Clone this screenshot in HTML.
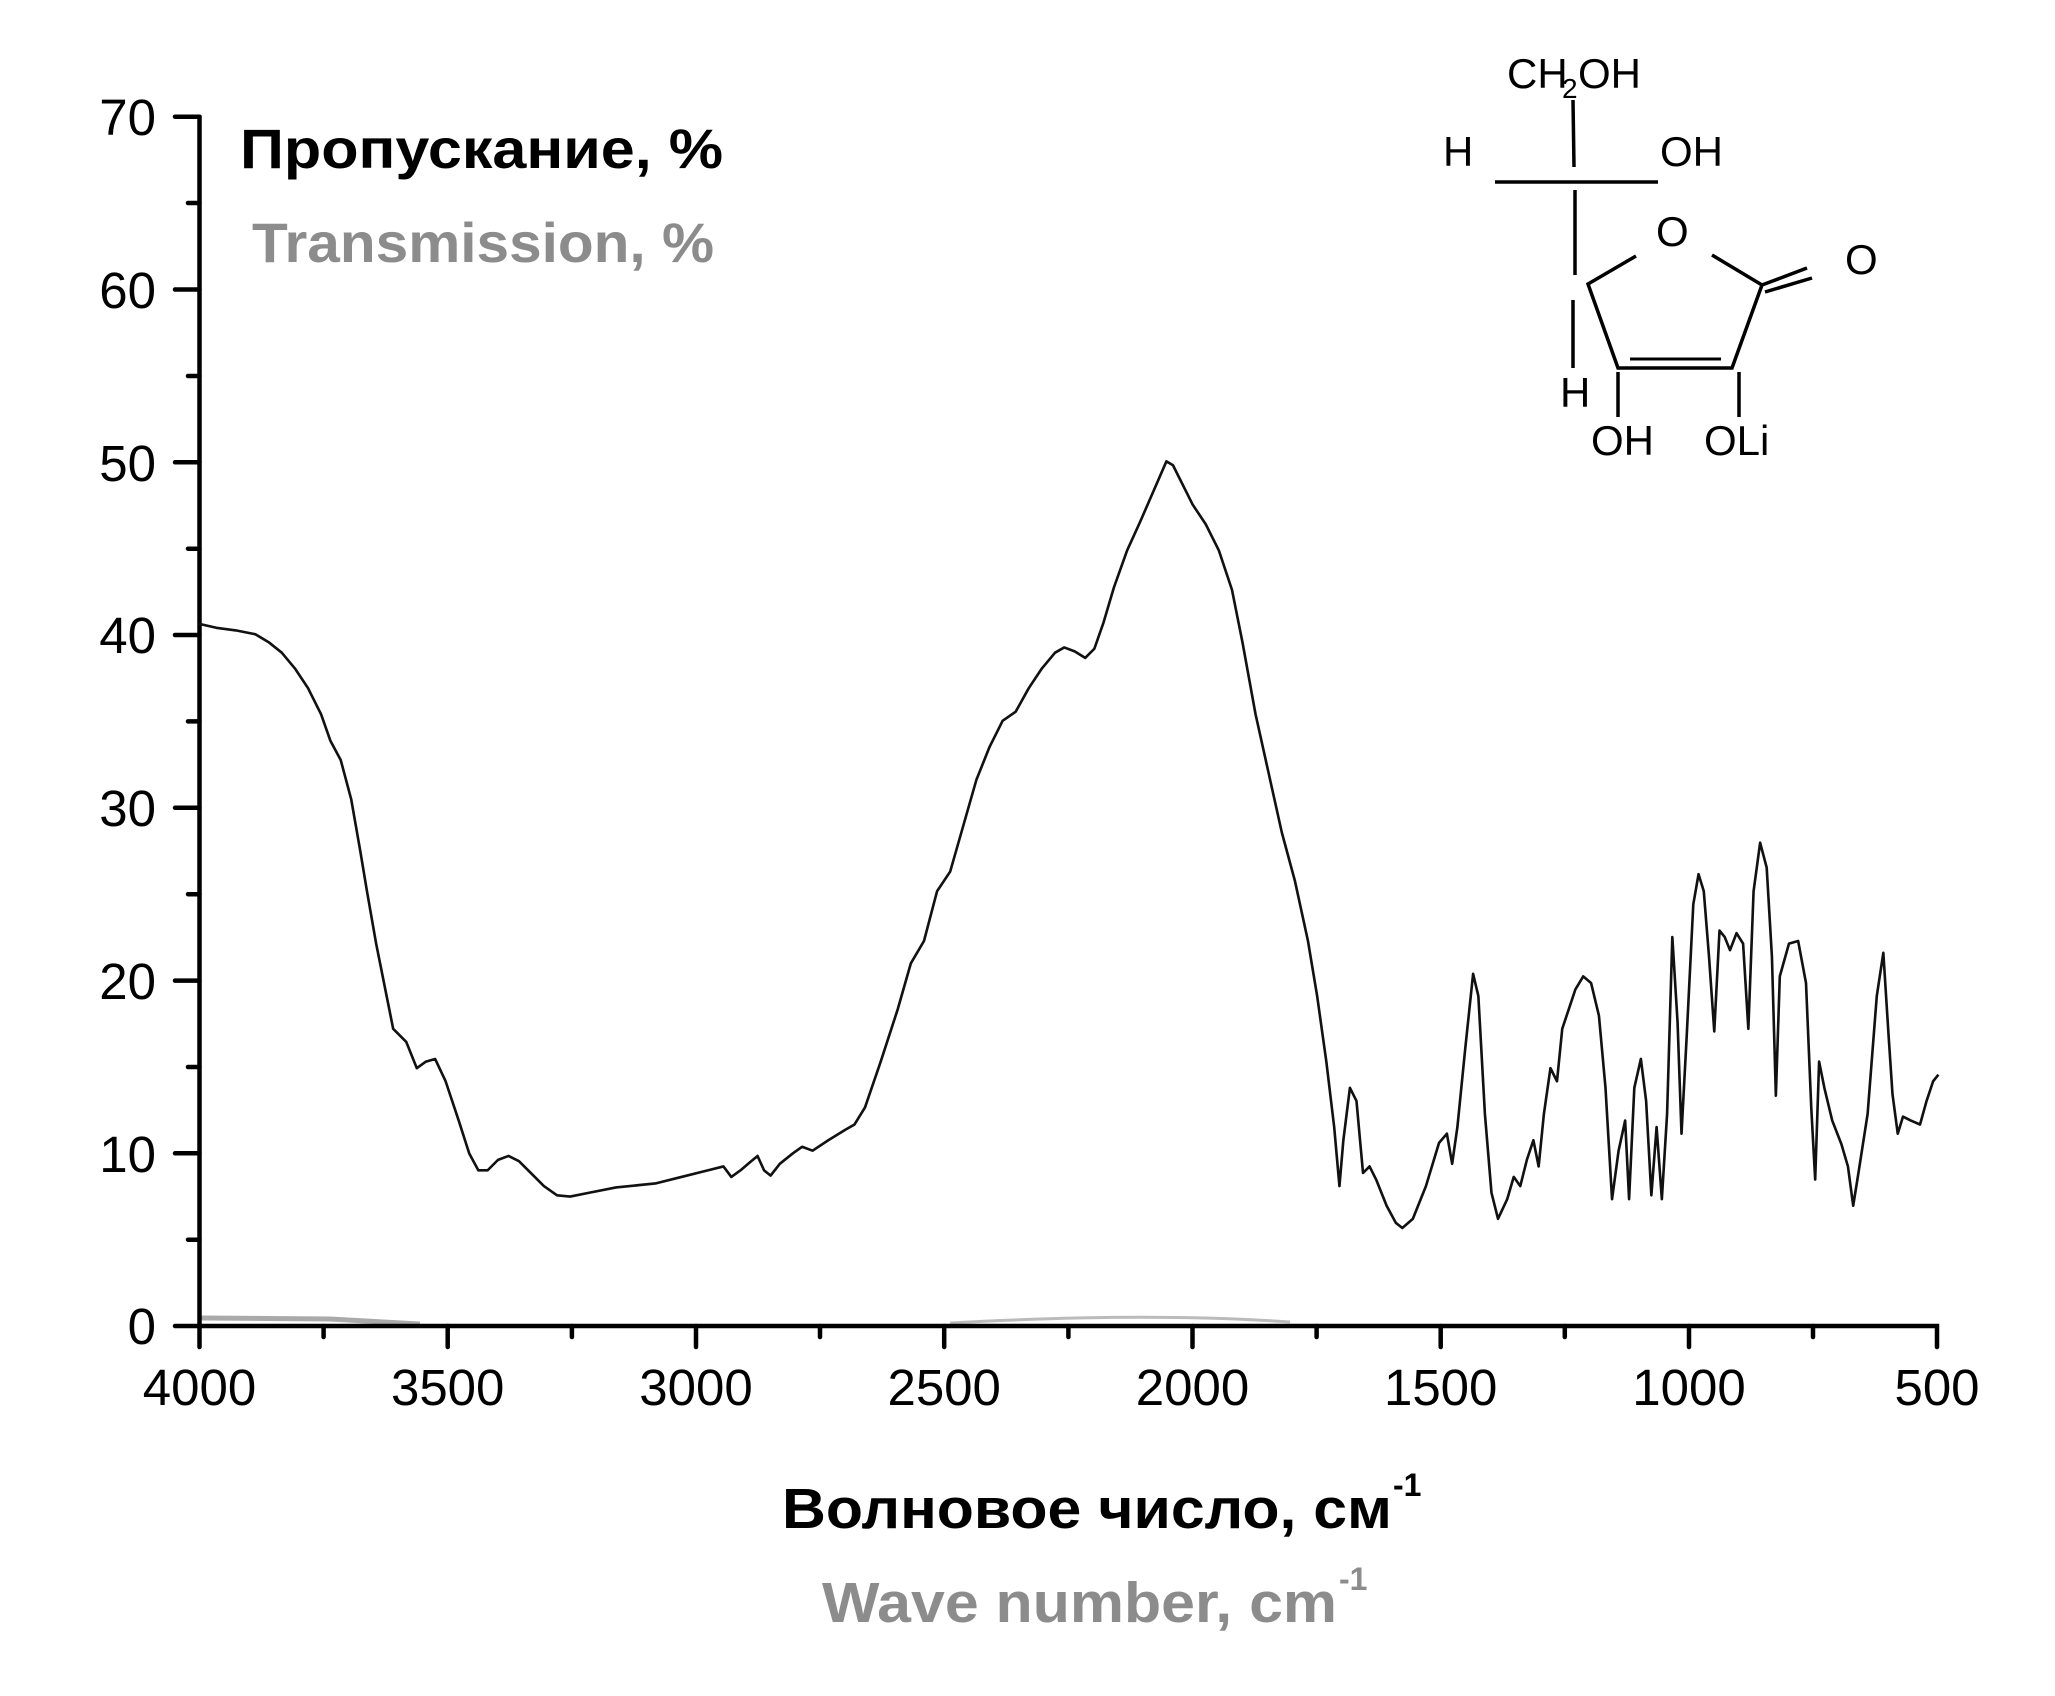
<!DOCTYPE html>
<html><head><meta charset="utf-8"><style>
html,body{margin:0;padding:0;background:#fff}
svg{display:block}
</style></head><body>
<svg width="2055" height="1696" viewBox="0 0 2055 1696" xmlns="http://www.w3.org/2000/svg" font-family="Liberation Sans, sans-serif">
<rect width="2055" height="1696" fill="#fff"/>
<path d="M201 1318 L330 1319 L420 1324" stroke="#aaa" stroke-width="5" fill="none"/>
<path d="M950 1323 Q1150 1312 1290 1322" stroke="#bbb" stroke-width="3" fill="none"/>
<g stroke="#000" stroke-width="4.5" fill="none" stroke-linecap="round">
<path d="M199.5 116.7 V1347"/>
<path d="M175 1326 H1937 V1347"/>
<path d="M175 116.7 H199.5"/>
<path d="M175 289.5 H199.5 M175 462.3 H199.5 M175 635 H199.5 M175 807.8 H199.5 M175 980.6 H199.5 M175 1153.3 H199.5"/>
<path d="M188 203 H199.5 M188 376 H199.5 M188 548.7 H199.5 M188 721.4 H199.5 M188 894.2 H199.5 M188 1067 H199.5 M188 1239.7 H199.5"/>
<path d="M447.7 1326 V1347 M696 1326 V1347 M944.2 1326 V1347 M1192.5 1326 V1347 M1440.7 1326 V1347 M1689 1326 V1347"/>
<path d="M323.6 1326 V1337 M571.9 1326 V1337 M820 1326 V1337 M1068.4 1326 V1337 M1316.6 1326 V1337 M1564.8 1326 V1337 M1813 1326 V1337"/>
</g>
<g font-size="51" fill="#000" text-anchor="end">
<text x="156" y="135">70</text>
<text x="156" y="308">60</text>
<text x="156" y="481">50</text>
<text x="156" y="653">40</text>
<text x="156" y="826">30</text>
<text x="156" y="999">20</text>
<text x="156" y="1172">10</text>
<text x="156" y="1344">0</text>
</g>
<g font-size="51" fill="#000" text-anchor="middle">
<text x="199.5" y="1405">4000</text>
<text x="447.7" y="1405">3500</text>
<text x="696" y="1405">3000</text>
<text x="944.2" y="1405">2500</text>
<text x="1192.5" y="1405">2000</text>
<text x="1440.7" y="1405">1500</text>
<text x="1689" y="1405">1000</text>
<text x="1937" y="1405">500</text>
</g>
<text x="240" y="168" font-size="56" font-weight="bold" fill="#000" textLength="483" lengthAdjust="spacingAndGlyphs">Пропускание, %</text>
<text x="252" y="262" font-size="56" font-weight="bold" fill="#8c8c8c" textLength="462" lengthAdjust="spacingAndGlyphs">Transmission, %</text>
<text x="782" y="1528" font-size="57" font-weight="bold" fill="#000" textLength="610" lengthAdjust="spacingAndGlyphs">Волновое число, см</text>
<text x="1393" y="1496" font-size="32" font-weight="bold" fill="#000">-1</text>
<text x="822" y="1622" font-size="57" font-weight="bold" fill="#8c8c8c" textLength="515" lengthAdjust="spacingAndGlyphs">Wave number, cm</text>
<text x="1339" y="1590" font-size="32" font-weight="bold" fill="#8c8c8c">-1</text>
<g transform="scale(1.3106)">
<path fill="none" stroke="#111" stroke-width="2" stroke-linejoin="round" d="M152,476 L165,479 L180,481 L195,484 L205,490 L215,498 L225,510 L235,525 L245,545 L252,565 L260,580 L268,610 L275,650 L280,680 L287,720 L295,760 L300,785 L310,795 L318,815 L325,810 L332,808 L340,825 L350,855 L358,880 L365,893 L372,893 L380,885 L388,882 L396,886 L405,895 L415,905 L425,912 L435,913 L450,910 L470,906 L500,903 L520,898 L540,893 L552,890 L558,898 L565,893 L572,887 L578,882 L583,893 L588,897 L595,888 L605,880 L612,875 L620,878 L632,870 L645,862 L652,858 L660,845 L672,810 L685,770 L695,735 L705,718 L715,680 L725,665 L735,630 L745,595 L755,570 L765,550 L775,543 L785,525 L795,510 L805,498 L812,494 L820,497 L828,502 L835,495 L842,475 L850,448 L860,420 L870,398 L880,375 L890,352 L895,355 L900,365 L910,385 L920,400 L930,420 L940,450 L948,490 L958,545 L968,590 L978,635 L988,672 L998,718 L1005,760 L1012,810 L1018,860 L1022,905 L1025,870 L1030,830 L1035,840 L1040,895 L1045,890 L1050,900 L1058,920 L1065,933 L1070,937 L1078,930 L1088,905 L1098,872 L1104,865 L1108,888 L1112,860 L1118,800 L1124,743 L1128,760 L1133,850 L1138,910 L1143,930 L1150,915 L1155,898 L1160,905 L1165,885 L1170,870 L1174,890 L1178,850 L1183,815 L1188,825 L1192,785 L1197,770 L1202,755 L1208,745 L1214,750 L1220,775 L1225,830 L1230,915 L1235,878 L1240,855 L1243,915 L1247,830 L1252,808 L1256,840 L1260,912 L1264,860 L1268,915 L1272,850 L1276,715 L1280,780 L1283,865 L1287,790 L1292,690 L1296,667 L1300,680 L1304,730 L1308,787 L1312,710 L1316,715 L1320,725 L1325,712 L1330,720 L1334,785 L1338,680 L1343,643 L1348,662 L1352,730 L1355,836 L1358,745 L1365,720 L1372,718 L1378,750 L1382,845 L1385,900 L1388,810 L1392,830 L1398,855 L1405,873 L1410,890 L1414,920 L1418,895 L1425,850 L1432,760 L1437,727 L1441,790 L1444,835 L1448,865 L1452,852 L1458,855 L1465,858 L1470,840 L1475,825 L1479,820"/>
</g>
<g stroke="#000" stroke-width="3.5" fill="none">
<path d="M1573 100 L1574 167"/>
<path d="M1495 182 H1658"/>
<path d="M1575 190 V275"/>
<path d="M1573 300 V368"/>
<path d="M1636 256 L1588 284 L1618 368 H1732 L1762 285 L1712 255"/>
<path d="M1630 359 H1721" stroke-width="3"/>
<path d="M1762 285 L1807 268 M1765 292 L1812 278"/>
<path d="M1618 372 V417 M1739 372 V417"/>
</g>
<g font-size="42" fill="#000">
<text x="1507" y="88">CH</text>
<text x="1562" y="98" font-size="28">2</text>
<text x="1578" y="88">OH</text>
<text x="1443" y="166">H</text>
<text x="1660" y="166">OH</text>
<text x="1656" y="246">O</text>
<text x="1845" y="274">O</text>
<text x="1560" y="407">H</text>
<text x="1591" y="455">OH</text>
<text x="1704" y="455">OLi</text>
</g>
</svg>
</body></html>
